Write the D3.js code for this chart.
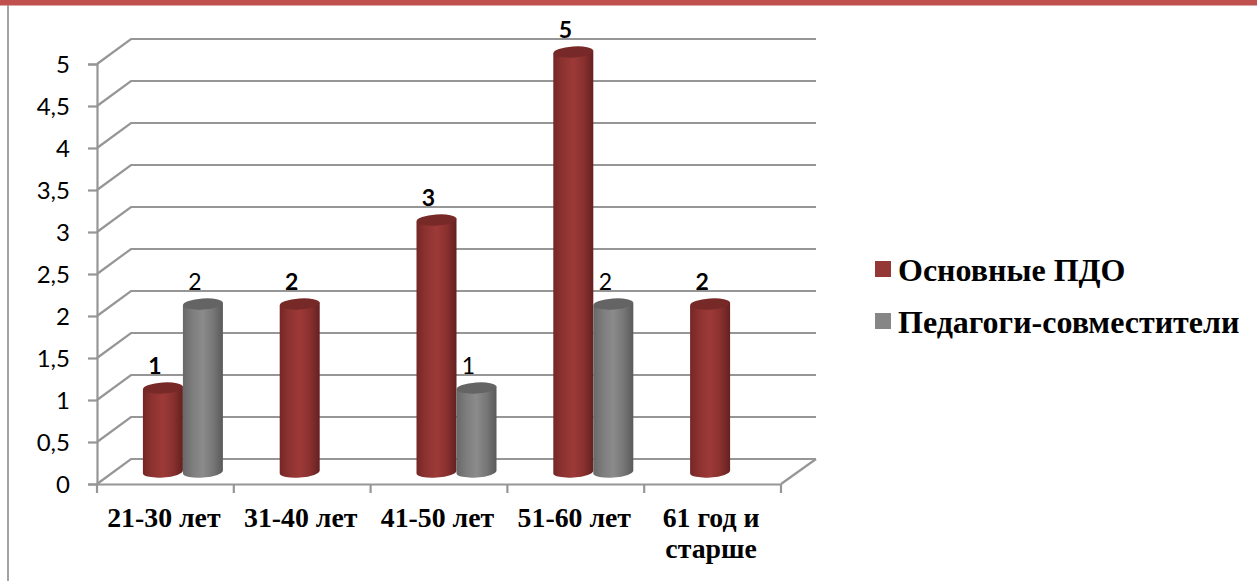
<!DOCTYPE html>
<html>
<head>
<meta charset="utf-8">
<script src="https://cdnjs.cloudflare.com/ajax/libs/d3/7.8.5/d3.min.js"></script>
<style>
  html, body { margin: 0; padding: 0; background: #fff; overflow: hidden; }
  .tick-y text { font-family: "Lato", "Open Sans", sans-serif; font-size: 24px; fill: #000; }
  .cat { font-family: "Liberation Serif", serif; font-size: 27.8px; font-weight: bold; fill: #000; }
  .legend-text { font-family: "Liberation Serif", serif; font-size: 32px; font-weight: bold; fill: #000; }
  .value { font-family: "Lato", "Open Sans", sans-serif; font-size: 23px; fill: #000; text-anchor: middle; }
</style>
</head>
<body>
<div id="chart"></div>
<script>
// DATA
const categories = ["21-30 лет", "31-40 лет", "41-50 лет", "51-60 лет", "61 год и старше"];
const seriesNames = ["Основные ПДО", "Педагоги-совместители"];
const mainValues = [1, 2, 3, 5, 2];
const partValues = [2, 0, 1, 2, 0];
const yTicks = [0, 0.5, 1, 1.5, 2, 2.5, 3, 3.5, 4, 4.5, 5];

// CHART AREA
const width = 1257, height = 581;
const plot = { left: 97, right: 781, top: 64, bottom: 484 };
const depth = { x: 34, y: 25 };

const svg = d3.select("#chart").append("svg")
  .attr("width", width)
  .attr("height", height)
  .style("display", "block");

// SCALES
const x = d3.scaleBand().domain(categories).range([plot.left, plot.right]);
const xInner = d3.scaleBand().domain(seriesNames).range([0, x.bandwidth()]).paddingOuter(0.71);
const y = d3.scaleLinear().domain([0, 5]).range([plot.bottom, plot.top]);

// GRADIENTS
const defs = svg.append("defs");
function cylinderGradient(id, stops) {
  const g = defs.append("linearGradient").attr("id", id);
  stops.forEach(s => g.append("stop").attr("offset", s[0]).attr("stop-color", s[1]));
}
cylinderGradient("grad-main", [[0, "#742725"], [0.22, "#8c3230"], [0.5, "#9d3a38"], [0.75, "#8a312f"], [1, "#642120"]]);
cylinderGradient("grad-part", [[0, "#686868"], [0.25, "#7e7e7e"], [0.5, "#8b8b8b"], [0.75, "#777"], [1, "#5a5a5a"]]);

// PAGE DECORATION
svg.append("rect").attr("x", 0).attr("y", 0).attr("width", width).attr("height", 5.5).attr("fill", "#c0504d");
svg.append("line").attr("x1", 8).attr("x2", 8).attr("y1", 5).attr("y2", height)
  .attr("stroke", "#8c8c8c").attr("stroke-width", 1.6);

// WALLS AND FLOOR
const gridColor = "#969696";
const grid = svg.append("g").attr("fill", "none").attr("stroke", gridColor).attr("stroke-width", 2.2);
grid.selectAll("path.grid")
  .data(yTicks)
  .enter().append("path")
  .attr("class", "grid")
  .attr("d", d => {
    const yy = y(d);
    return "M" + plot.left + "," + yy +
      "L" + (plot.left + depth.x) + "," + (yy - depth.y) +
      "L" + (plot.right + depth.x + 1) + "," + (yy - depth.y);
  });
grid.append("path")
  .attr("d", "M" + plot.right + "," + y(0) + "L" + (plot.right + depth.x + 1) + "," + (y(0) - depth.y));

// AXES
const yAxis = d3.axisLeft(y)
  .tickValues(yTicks)
  .tickSize(9)
  .tickPadding(18)
  .tickFormat(d => String(d).replace(".", ","));
const yGroup = svg.append("g")
  .attr("class", "tick-y")
  .attr("transform", "translate(" + plot.left + ",0)")
  .call(yAxis);
yGroup.selectAll("line, path").attr("stroke", gridColor).attr("stroke-width", 2.2);
yGroup.selectAll("text").attr("dy", "0.36em");

const xAxis = d3.axisBottom(x).tickSize(0).tickFormat("");
const xGroup = svg.append("g")
  .attr("transform", "translate(0," + plot.bottom + ")")
  .call(xAxis);
xGroup.select("path").attr("stroke", gridColor).attr("stroke-width", 2.2);
xGroup.selectAll(".tick").remove();

// ticks between the categories
const xEdges = categories.map(c => x(c)).concat([plot.right]);
svg.append("g").selectAll("line")
  .data(xEdges)
  .enter().append("line")
  .attr("x1", d => d).attr("x2", d => d)
  .attr("y1", plot.bottom).attr("y2", plot.bottom + 9)
  .attr("stroke", gridColor).attr("stroke-width", 2.2);

// category labels, the last one wraps
const catLines = categories.map(c => c === "61 год и старше" ? ["61 год и", "старше"] : [c]);
const catLabel = svg.append("g").selectAll("text")
  .data(categories)
  .enter().append("text")
  .attr("class", "cat")
  .attr("text-anchor", "middle");
catLabel.each(function(d, i) {
  d3.select(this).selectAll("tspan")
    .data(catLines[i])
    .enter().append("tspan")
    .attr("x", x(d) + x.bandwidth() / 2 - 1.5)
    .attr("y", (t, j) => 527 + j * 31)
    .text(t => t);
});

// BARS
const barShift = { x: 17.5, y: -12 };
const rows = [];
categories.forEach((c, i) => {
  rows.push({ cat: c, series: seriesNames[0], value: mainValues[i], grad: "grad-main", top: "#772928" });
  rows.push({ cat: c, series: seriesNames[1], value: partValues[i], grad: "grad-part", top: "#646464" });
});
const rx = xInner.bandwidth() / 2, ry = 5.5, tilt = -4;

const bars = svg.append("g")
  .attr("transform", "translate(" + barShift.x + "," + barShift.y + ")")
  .selectAll("g.bar")
  .data(rows.filter(d => d.value > 0))
  .enter().append("g")
  .attr("class", "bar");

bars.append("path")
  .attr("fill", d => "url(#" + d.grad + ")")
  .attr("d", d => {
    const x0 = x(d.cat) + xInner(d.series), x1 = x0 + xInner.bandwidth();
    const dy = Math.sin(-tilt * Math.PI / 180) * rx;
    return "M" + x0 + "," + (y(d.value) + dy) +
      "L" + x0 + "," + (y(0) + dy) +
      "A" + rx + "," + ry + "," + tilt + ",0,0," + x1 + "," + (y(0) - dy) +
      "L" + x1 + "," + (y(d.value) - dy) + "Z";
  });

bars.append("ellipse")
  .attr("rx", rx)
  .attr("ry", ry)
  .attr("fill", d => d.top)
  .attr("transform", d => "translate(" + (x(d.cat) + xInner(d.series) + rx) + "," + y(d.value) + ") rotate(" + tilt + ")");

bars.append("text")
  .attr("class", "value")
  .attr("x", d => x(d.cat) + xInner(d.series) + rx - 8)
  .attr("y", d => y(d.value) - 14)
  .attr("font-weight", d => d.series === seriesNames[0] ? "bold" : "normal")
  .text(d => d.value);

// LEGEND
const legendColor = d3.scaleOrdinal().domain(seriesNames).range(["#953735", "#868686"]);
const legendY = d3.scalePoint().domain(seriesNames).range([269, 321]);
const legend = svg.append("g").selectAll("g")
  .data(seriesNames)
  .enter().append("g")
  .attr("transform", d => "translate(875," + legendY(d) + ")");
legend.append("rect")
  .attr("y", -8).attr("width", 16).attr("height", 16)
  .attr("fill", d => legendColor(d));
legend.append("text")
  .attr("class", "legend-text")
  .attr("x", 23)
  .attr("y", 11.5)
  .text(d => d);
</script>
</body>
</html>
